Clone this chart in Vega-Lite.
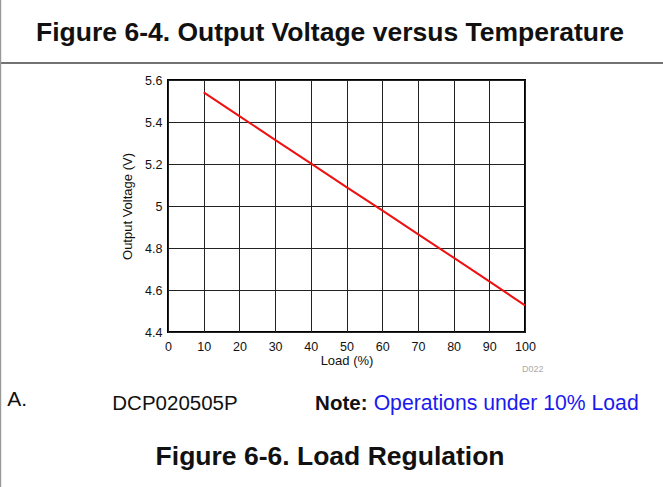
{
  "$schema": "https://vega.github.io/schema/vega-lite/v6.json",
  "width": 357,
  "height": 252,
  "autosize": {"type": "none"},
  "padding": {"left": 168, "top": 80, "right": 138, "bottom": 155},
  "background": "white",
  "config": {
    "view": {"stroke": "black", "strokeWidth": 2},
    "font": "Liberation Sans",
    "axis": {
      "labelFont": "Liberation Sans",
      "titleFont": "Liberation Sans",
      "labelColor": "#111",
      "titleColor": "#111",
      "labelFontSize": 12.5,
      "titleFontSize": 13,
      "titleFontWeight": "normal",
      "grid": true,
      "gridColor": "#222",
      "gridWidth": 1,
      "gridOpacity": 1,
      "ticks": false,
      "domain": false,
      "labelOverlap": false,
      "labelFlush": false
    },
    "axisX": {"labelPadding": 8, "titlePadding": 2},
    "axisY": {"labelPadding": 6, "titlePadding": 10}
  },
  "datasets": {
    "curve": [
      {"load": 10, "voltage": 5.541},
      {"load": 20, "voltage": 5.428},
      {"load": 30, "voltage": 5.315},
      {"load": 40, "voltage": 5.203},
      {"load": 50, "voltage": 5.09},
      {"load": 60, "voltage": 4.979},
      {"load": 70, "voltage": 4.866},
      {"load": 80, "voltage": 4.754},
      {"load": 90, "voltage": 4.641},
      {"load": 100, "voltage": 4.527}
    ]
  },
  "layer": [
    {
      "data": {"name": "curve"},
      "mark": {"type": "line", "color": "#ee1111", "strokeWidth": 2},
      "encoding": {
        "x": {
          "field": "load", "type": "quantitative",
          "scale": {"domain": [0, 100], "nice": false, "zero": false},
          "axis": {"values": [0,10,20,30,40,50,60,70,80,90,100], "title": "Load (%)"}
        },
        "y": {
          "field": "voltage", "type": "quantitative",
          "scale": {"domain": [4.4, 5.6], "nice": false, "zero": false},
          "axis": {"values": [4.4,4.6,4.8,5,5.2,5.4,5.6], "format": "~g", "title": "Output Voltage (V)"}
        }
      }
    },
    {
      "data": {"values": [{}]},
      "mark": {"type": "rule", "color": "#444", "strokeWidth": 1.5},
      "encoding": {
        "x": {"datum": -47, "type": "quantitative", "axis": {"values": [0,10,20,30,40,50,60,70,80,90,100], "title": "Load (%)"}},
        "x2": {"datum": 138.7},
        "y": {"datum": 5.681, "type": "quantitative", "axis": {"values": [4.4,4.6,4.8,5,5.2,5.4,5.6], "format": "~g", "title": "Output Voltage (V)"}}
      }
    },
    {
      "data": {"values": [{}]},
      "mark": {"type": "rule", "color": "#999", "strokeWidth": 2},
      "encoding": {
        "x": {"datum": -47, "type": "quantitative", "axis": {"values": [0,10,20,30,40,50,60,70,80,90,100], "title": "Load (%)"}},
        "y": {"datum": 5.982, "type": "quantitative", "axis": {"values": [4.4,4.6,4.8,5,5.2,5.4,5.6], "format": "~g", "title": "Output Voltage (V)"}},
        "y2": {"datum": 3.66}
      }
    },
    {
      "data": {"values": [{}]},
      "mark": {"type": "text", "text": "Figure 6-4. Output Voltage versus Temperature", "font": "Liberation Sans", "fontSize": 26.5, "fontWeight": "bold", "color": "#111", "align": "center", "baseline": "alphabetic"},
      "encoding": {
        "x": {"datum": 45.4, "type": "quantitative", "axis": {"values": [0,10,20,30,40,50,60,70,80,90,100], "title": "Load (%)"}},
        "y": {"datum": 5.785, "type": "quantitative", "axis": {"values": [4.4,4.6,4.8,5,5.2,5.4,5.6], "format": "~g", "title": "Output Voltage (V)"}}
      }
    },
    {
      "data": {"values": [{}]},
      "mark": {"type": "text", "text": "D022", "font": "Liberation Sans", "fontSize": 9, "color": "#aaaaaa", "align": "center", "baseline": "middle"},
      "encoding": {
        "x": {"datum": 102.2, "type": "quantitative", "axis": {"values": [0,10,20,30,40,50,60,70,80,90,100], "title": "Load (%)"}},
        "y": {"datum": 4.224, "type": "quantitative", "axis": {"values": [4.4,4.6,4.8,5,5.2,5.4,5.6], "format": "~g", "title": "Output Voltage (V)"}}
      }
    },
    {
      "data": {"values": [{}]},
      "mark": {"type": "text", "text": "A.", "font": "Liberation Sans", "fontSize": 21, "color": "#111", "align": "left", "baseline": "alphabetic"},
      "encoding": {
        "x": {"datum": -45, "type": "quantitative", "axis": {"values": [0,10,20,30,40,50,60,70,80,90,100], "title": "Load (%)"}},
        "y": {"datum": 4.047, "type": "quantitative", "axis": {"values": [4.4,4.6,4.8,5,5.2,5.4,5.6], "format": "~g", "title": "Output Voltage (V)"}}
      }
    },
    {
      "data": {"values": [{}]},
      "mark": {"type": "text", "text": "DCP020505P", "font": "Liberation Sans", "fontSize": 20.5, "color": "#111", "align": "left", "baseline": "alphabetic"},
      "encoding": {
        "x": {"datum": -15.6, "type": "quantitative", "axis": {"values": [0,10,20,30,40,50,60,70,80,90,100], "title": "Load (%)"}},
        "y": {"datum": 4.03, "type": "quantitative", "axis": {"values": [4.4,4.6,4.8,5,5.2,5.4,5.6], "format": "~g", "title": "Output Voltage (V)"}}
      }
    },
    {
      "data": {"values": [{}]},
      "mark": {"type": "text", "text": "Note:", "font": "Liberation Sans", "fontSize": 20.5, "fontWeight": "bold", "color": "#111", "align": "left", "baseline": "alphabetic"},
      "encoding": {
        "x": {"datum": 41.2, "type": "quantitative", "axis": {"values": [0,10,20,30,40,50,60,70,80,90,100], "title": "Load (%)"}},
        "y": {"datum": 4.03, "type": "quantitative", "axis": {"values": [4.4,4.6,4.8,5,5.2,5.4,5.6], "format": "~g", "title": "Output Voltage (V)"}}
      }
    },
    {
      "data": {"values": [{}]},
      "mark": {"type": "text", "text": "Operations under 10% Load", "font": "Liberation Sans", "fontSize": 21.2, "color": "#1a1aee", "align": "left", "baseline": "alphabetic"},
      "encoding": {
        "x": {"datum": 57.6, "type": "quantitative", "axis": {"values": [0,10,20,30,40,50,60,70,80,90,100], "title": "Load (%)"}},
        "y": {"datum": 4.03, "type": "quantitative", "axis": {"values": [4.4,4.6,4.8,5,5.2,5.4,5.6], "format": "~g", "title": "Output Voltage (V)"}}
      }
    },
    {
      "data": {"values": [{}]},
      "mark": {"type": "text", "text": "Figure 6-6. Load Regulation", "font": "Liberation Sans", "fontSize": 26.5, "fontWeight": "bold", "color": "#111", "align": "center", "baseline": "alphabetic"},
      "encoding": {
        "x": {"datum": 45.4, "type": "quantitative", "axis": {"values": [0,10,20,30,40,50,60,70,80,90,100], "title": "Load (%)"}},
        "y": {"datum": 3.769, "type": "quantitative", "axis": {"values": [4.4,4.6,4.8,5,5.2,5.4,5.6], "format": "~g", "title": "Output Voltage (V)"}}
      }
    }
  ]
}
